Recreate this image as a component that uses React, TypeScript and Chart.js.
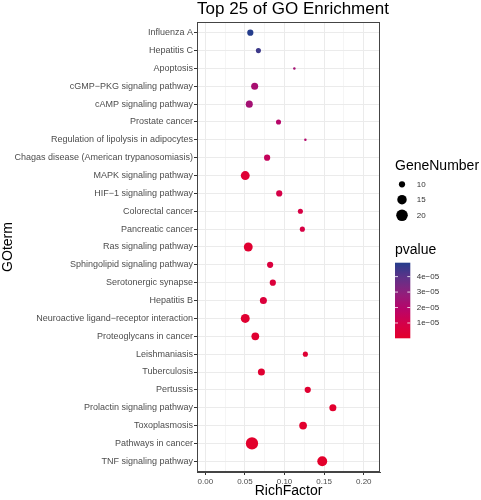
import React, { useEffect, useRef } from "react";
import { Chart, registerables } from "chart.js";

Chart.register(...registerables);

const terms = [
  "Influenza A",
  "Hepatitis C",
  "Apoptosis",
  "cGMP\u2212PKG signaling pathway",
  "cAMP signaling pathway",
  "Prostate cancer",
  "Regulation of lipolysis in adipocytes",
  "Chagas disease (American trypanosomiasis)",
  "MAPK signaling pathway",
  "HIF\u22121 signaling pathway",
  "Colorectal cancer",
  "Pancreatic cancer",
  "Ras signaling pathway",
  "Sphingolipid signaling pathway",
  "Serotonergic synapse",
  "Hepatitis B",
  "Neuroactive ligand\u2212receptor interaction",
  "Proteoglycans in cancer",
  "Leishmaniasis",
  "Tuberculosis",
  "Pertussis",
  "Prolactin signaling pathway",
  "Toxoplasmosis",
  "Pathways in cancer",
  "TNF signaling pathway",
];

const richFactor = [
  0.0568, 0.067, 0.1124, 0.0623, 0.0555, 0.0924, 0.1263, 0.078, 0.0504, 0.0933,
  0.12, 0.1225, 0.0542, 0.0818, 0.0852, 0.0733, 0.0504, 0.0631, 0.1263, 0.0708,
  0.1293, 0.161, 0.1234, 0.0589, 0.1476,
];

const geneNumber = [
  10, 9, 8, 11, 11, 9, 8, 10, 14, 10, 9, 9, 14, 10, 10, 11, 14, 12, 9, 11, 10, 11,
  12, 22, 16,
];

const pvalue = [
  4.9e-5, 4.5e-5, 2.4e-5, 2.3e-5, 2.4e-5, 1.9e-5, 2.0e-5, 1.5e-5, 3e-6, 9e-6, 8e-6,
  8e-6, 2e-6, 6e-6, 5e-6, 5e-6, 2e-6, 2e-6, 3e-6, 2e-6, 2e-6, 1e-6, 1e-6, 5e-7, 1e-7,
];

const xTicks = [0, 0.025, 0.05, 0.075, 0.1, 0.125, 0.15, 0.175, 0.2];
const sizeBreaks = [10, 15, 20];
const pBreaks = [4e-5, 3e-5, 2e-5, 1e-5];
const pBreakLabels = ["4e\u221205", "3e\u221205", "2e\u221205", "1e\u221205"];

// colour ramp stops (low p -> high p)
const rampStops = ["#E3002B", "#D4004A", "#B5066B", "#8F1F7C", "#5F3288", "#253D8C"];
const FONT = "'Liberation Sans', Arial, Helvetica, sans-serif";

function hexToRgb(h: string): number[] {
  const n = parseInt(h.slice(1), 16);
  return [(n >> 16) & 255, (n >> 8) & 255, n & 255];
}
const rampRgb = rampStops.map(hexToRgb);
const pMin = Math.min(...pvalue);
const pMax = Math.max(...pvalue);
function colorAt(t: number) {
  t = Math.max(0, Math.min(1, t));
  const seg = t * (rampRgb.length - 1);
  const i = Math.min(rampRgb.length - 2, Math.floor(seg));
  const f = seg - i;
  const a = rampRgb[i], b = rampRgb[i + 1];
  const c = a.map((v, k) => Math.round(v + (b[k] - v) * f));
  return `rgb(${c[0]},${c[1]},${c[2]})`;
}
function pColor(p: number) {
  return colorAt((p - pMin) / (pMax - pMin));
}
const gMin = Math.min(...geneNumber);
const gMax = Math.max(...geneNumber);
function radiusFor(g: number) {
  const t = Math.max(0, (g - gMin) / (gMax - gMin));
  return (2.5 + 9.8 * Math.sqrt(t)) / 2;
}

const isMajor = (v: number) => Math.round(v * 1000) % 50 === 0;

const decorPlugin = {
  id: "decor",
  afterDraw(chart: any) {
    const ctx = chart.ctx as CanvasRenderingContext2D;
    const a = chart.chartArea;
    ctx.save();
    ctx.strokeStyle = "#444";
    ctx.lineWidth = 1;
    ctx.strokeRect(a.left + 0.5, a.top + 0.5, a.right - a.left - 1, a.bottom - a.top - 1);
    ctx.fillStyle = "#000";
    ctx.font = `17px ${FONT}`;
    ctx.textAlign = "center";
    ctx.textBaseline = "alphabetic";
    ctx.fillText("Top 25 of GO Enrichment", 293, 14);
    ctx.textAlign = "left";
    ctx.font = `14px ${FONT}`;
    ctx.fillText("GeneNumber", 395, 169.5);
    const sizeY = [184.3, 199.7, 215.3];
    ctx.font = `8px ${FONT}`;
    sizeBreaks.forEach((g, i) => {
      ctx.fillStyle = "#000";
      ctx.beginPath();
      ctx.arc(402, sizeY[i], radiusFor(g), 0, Math.PI * 2);
      ctx.fill();
      ctx.fillStyle = "#333";
      ctx.textBaseline = "middle";
      ctx.fillText(String(g), 416.7, sizeY[i]);
    });
    ctx.fillStyle = "#000";
    ctx.font = `14px ${FONT}`;
    ctx.textBaseline = "alphabetic";
    ctx.fillText("pvalue", 395, 254);
    const bx = 395, bw = 15.3, by = 262.7, bh = 75.6;
    const grad = ctx.createLinearGradient(0, by + bh, 0, by);
    for (let i = 0; i <= 40; i++) grad.addColorStop(i / 40, colorAt(i / 40));
    ctx.fillStyle = grad;
    ctx.fillRect(bx, by, bw, bh);
    ctx.font = `8px ${FONT}`;
    ctx.textBaseline = "middle";
    pBreaks.forEach((p, i) => {
      const y = by + bh - ((p - pMin) / (pMax - pMin)) * bh;
      ctx.strokeStyle = "rgba(255,255,255,0.8)";
      ctx.lineWidth = 1;
      ctx.beginPath();
      ctx.moveTo(bx, y);
      ctx.lineTo(bx + 3, y);
      ctx.moveTo(bx + bw - 3, y);
      ctx.lineTo(bx + bw, y);
      ctx.stroke();
      ctx.fillStyle = "#333";
      ctx.fillText(pBreakLabels[i], 416.7, y);
    });
    ctx.restore();
  },
};

export default function App() {
  const ref = useRef<HTMLCanvasElement | null>(null);
  useEffect(() => {
    document.body.style.margin = "0";
    const canvas = ref.current!;
    const chart = new Chart(canvas, {
      type: "scatter",
      data: {
        datasets: [
          {
            data: richFactor.map((x, i) => ({ x, y: i })),
            pointRadius: (c: any) => radiusFor(geneNumber[c.dataIndex] ?? 10),
            pointHoverRadius: (c: any) => radiusFor(geneNumber[c.dataIndex] ?? 10),
            backgroundColor: (c: any) => pColor(pvalue[c.dataIndex] ?? pMin),
            borderWidth: 0,
          } as any,
        ],
      },
      options: {
        animation: false,
        responsive: false,
        devicePixelRatio: 1,
        layout: { padding: { top: 22, right: 101, left: 0, bottom: 0 } },
        plugins: { legend: { display: false }, tooltip: { enabled: false }, title: { display: false } },
        events: [],
        scales: {
          x: {
            type: "linear",
            min: -0.0105,
            max: 0.2205,
            afterBuildTicks: (s: any) => {
              s.ticks = xTicks.map((v) => ({ value: v }));
            },
            afterFit: (s: any) => {
              s.height = 28;
            },
            ticks: {
              autoSkip: false,
              maxRotation: 0,
              padding: 2,
              color: "#4D4D4D",
              font: { family: FONT, size: 8 },
              callback: (v: any) => (isMajor(Number(v)) ? Number(v).toFixed(2) : ""),
            },
            grid: {
              color: "#EBEBEB",
              lineWidth: (c: any) => (c.tick && isMajor(c.tick.value) ? 1 : 0.5),
              tickColor: (c: any) => (c.tick && isMajor(c.tick.value) ? "#333" : "rgba(0,0,0,0)"),
              tickLength: 3,
            },
            border: { display: true, color: "#444" },
            title: { display: true, text: "RichFactor", color: "#000", font: { family: FONT, size: 14 }, padding: 0 },
          },
          y: {
            type: "linear",
            reverse: true,
            min: -0.6,
            max: terms.length - 0.4,
            afterBuildTicks: (s: any) => {
              s.ticks = terms.map((_, i) => ({ value: i }));
            },
            afterFit: (s: any) => {
              s.width = 197;
            },
            ticks: {
              autoSkip: false,
              padding: 1,
              color: "#4D4D4D",
              font: { family: FONT, size: 9 },
              callback: (v: any) => terms[Math.round(Number(v))] ?? "",
            },
            grid: { color: "#EBEBEB", lineWidth: 1, tickColor: "#333", tickLength: 3 },
            border: { display: true, color: "#444" },
            title: { display: true, text: "GOterm", color: "#000", font: { family: FONT, size: 14 }, padding: 0 },
          },
        },
      } as any,
      plugins: [decorPlugin],
    });
    return () => chart.destroy();
  }, []);
  return (
    <div style={{ width: 481, height: 500, background: "#fff" }}>
      <canvas ref={ref} width={481} height={500} />
    </div>
  );
}
